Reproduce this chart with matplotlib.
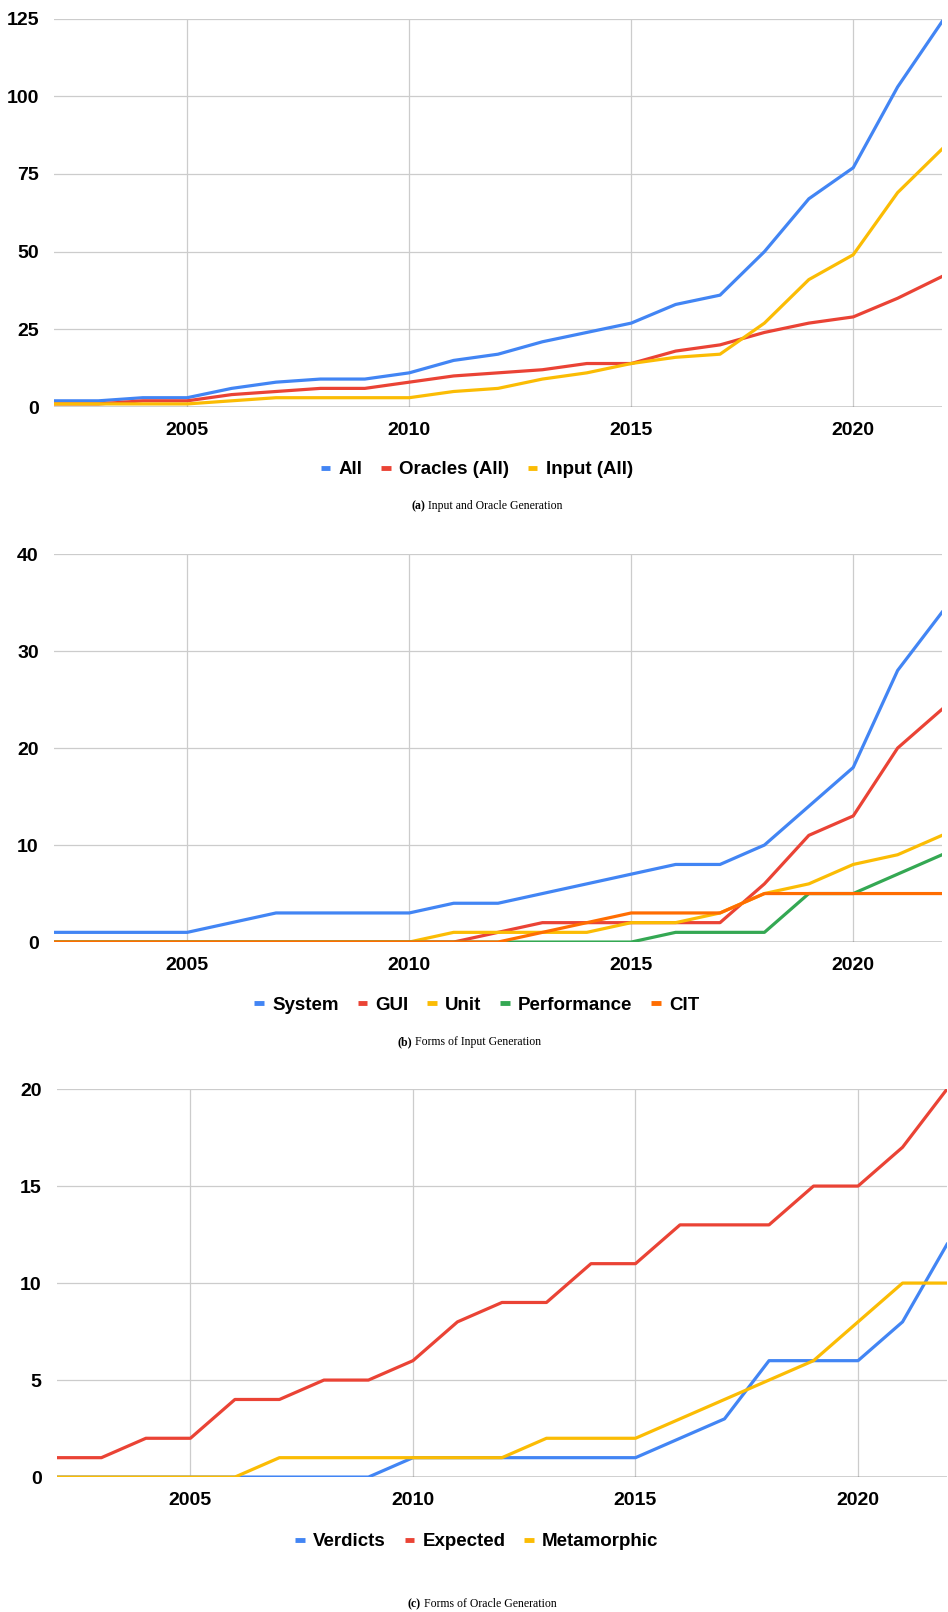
import matplotlib
matplotlib.use("Agg")
import matplotlib.pyplot as plt

years = list(range(2002, 2023))

# (a) input and oracle generation
all_papers = [2, 2, 3, 3, 6, 8, 9, 9, 11, 15, 17, 21, 24, 27, 33, 36, 50, 67, 77, 103, 124]
oracles_all = [1, 1, 2, 2, 4, 5, 6, 6, 8, 10, 11, 12, 14, 14, 18, 20, 24, 27, 29, 35, 42]
input_all = [1, 1, 1, 1, 2, 3, 3, 3, 3, 5, 6, 9, 11, 14, 16, 17, 27, 41, 49, 69, 83]

# (b) forms of input generation
system = [1, 1, 1, 1, 2, 3, 3, 3, 3, 4, 4, 5, 6, 7, 8, 8, 10, 14, 18, 28, 34]
gui = [0, 0, 0, 0, 0, 0, 0, 0, 0, 0, 1, 2, 2, 2, 2, 2, 6, 11, 13, 20, 24]
unit = [0, 0, 0, 0, 0, 0, 0, 0, 0, 1, 1, 1, 1, 2, 2, 3, 5, 6, 8, 9, 11]
performance = [0, 0, 0, 0, 0, 0, 0, 0, 0, 0, 0, 0, 0, 0, 1, 1, 1, 5, 5, 7, 9]
cit = [0, 0, 0, 0, 0, 0, 0, 0, 0, 0, 0, 1, 2, 3, 3, 3, 5, 5, 5, 5, 5]

# (c) forms of oracle generation
verdicts = [0, 0, 0, 0, 0, 0, 0, 0, 1, 1, 1, 1, 1, 1, 2, 3, 6, 6, 6, 8, 12]
expected = [1, 1, 2, 2, 4, 4, 5, 5, 6, 8, 9, 9, 11, 11, 13, 13, 13, 15, 15, 17, 20]
metamorphic = [0, 0, 0, 0, 0, 1, 1, 1, 1, 1, 1, 2, 2, 2, 3, 4, 5, 6, 8, 10, 10]

BLUE, RED, YELLOW, GREEN, ORANGE = "#4285F4", "#EA4335", "#FBBC04", "#34A853", "#FF6D01"

plt.rcParams["font.family"] = ["Liberation Sans", "DejaVu Sans"]

fig = plt.figure(figsize=(9.48, 16.12), dpi=100)

panels = [
    {
        "rect": [0.057, 0.7475, 0.9367, 0.2410],
        "series": [("All", all_papers, BLUE), ("Oracles (All)", oracles_all, RED),
                   ("Input (All)", input_all, YELLOW)],
        "yticks": [0, 25, 50, 75, 100, 125],
        "legend_y": 1 - 470 / 1612,
        "tag": "(a)", "caption": " Input and Oracle Generation",
        "cap_x": 0.434, "cap_y": 1 - 506 / 1612,
    },
    {
        "rect": [0.057, 0.4156, 0.9367, 0.2407],
        "series": [("System", system, BLUE), ("GUI", gui, RED), ("Unit", unit, YELLOW),
                   ("Performance", performance, GREEN), ("CIT", cit, ORANGE)],
        "yticks": [0, 10, 20, 30, 40],
        "legend_y": 1 - 1005 / 1612,
        "tag": "(b)", "caption": " Forms of Input Generation",
        "cap_x": 0.419, "cap_y": 1 - 1042 / 1612,
    },
    {
        "rect": [0.060, 0.0837, 0.9390, 0.2407],
        "series": [("Verdicts", verdicts, BLUE), ("Expected", expected, RED),
                   ("Metamorphic", metamorphic, YELLOW)],
        "yticks": [0, 5, 10, 15, 20],
        "legend_y": 1 - 1542 / 1612,
        "tag": "(c)", "caption": " Forms of Oracle Generation",
        "cap_x": 0.430, "cap_y": 1 - 1604 / 1612,
    },
]

for p in panels:
    ax = fig.add_axes(p["rect"])
    lines = []
    for name, vals, col in p["series"]:
        ln, = ax.plot(years, vals, color=col, lw=2.3, label=name,
                      solid_joinstyle="round", zorder=3)
        lines.append(ln)

    ax.set_xlim(2002, 2022)
    ax.set_ylim(0, p["yticks"][-1])
    ax.set_xticks([2005, 2010, 2015, 2020])
    ax.set_yticks(p["yticks"])
    ax.grid(True, color="#cccccc", lw=0.9, zorder=0)
    ax.axhline(0, color="#333333", lw=1.0, zorder=2)
    for s in ax.spines.values():
        s.set_visible(False)
    ax.tick_params(length=0, labelsize=14, pad=11)
    for lab in ax.get_xticklabels() + ax.get_yticklabels():
        lab.set_fontweight("bold")

    leg = fig.legend(handles=lines, loc="center", bbox_to_anchor=(0.503, p["legend_y"]),
                     ncol=len(lines), frameon=False, handlelength=0.5, handleheight=0.6,
                     handletextpad=0.45, columnspacing=1.0,
                     prop={"weight": "bold", "size": 13.5})
    for h in leg.legend_handles:
        h.set_linewidth(3.5)
        h.set_solid_capstyle("butt")

    tag = fig.text(p["cap_x"], p["cap_y"], p["tag"], family="Liberation Serif",
                   weight="bold", size=8.5, va="center", ha="left")
    ax.annotate(p["caption"], xy=(1, 0.5), xycoords=tag, va="center", ha="left",
                family="Liberation Serif", size=8.5)

fig.savefig("out.png", dpi=100)
